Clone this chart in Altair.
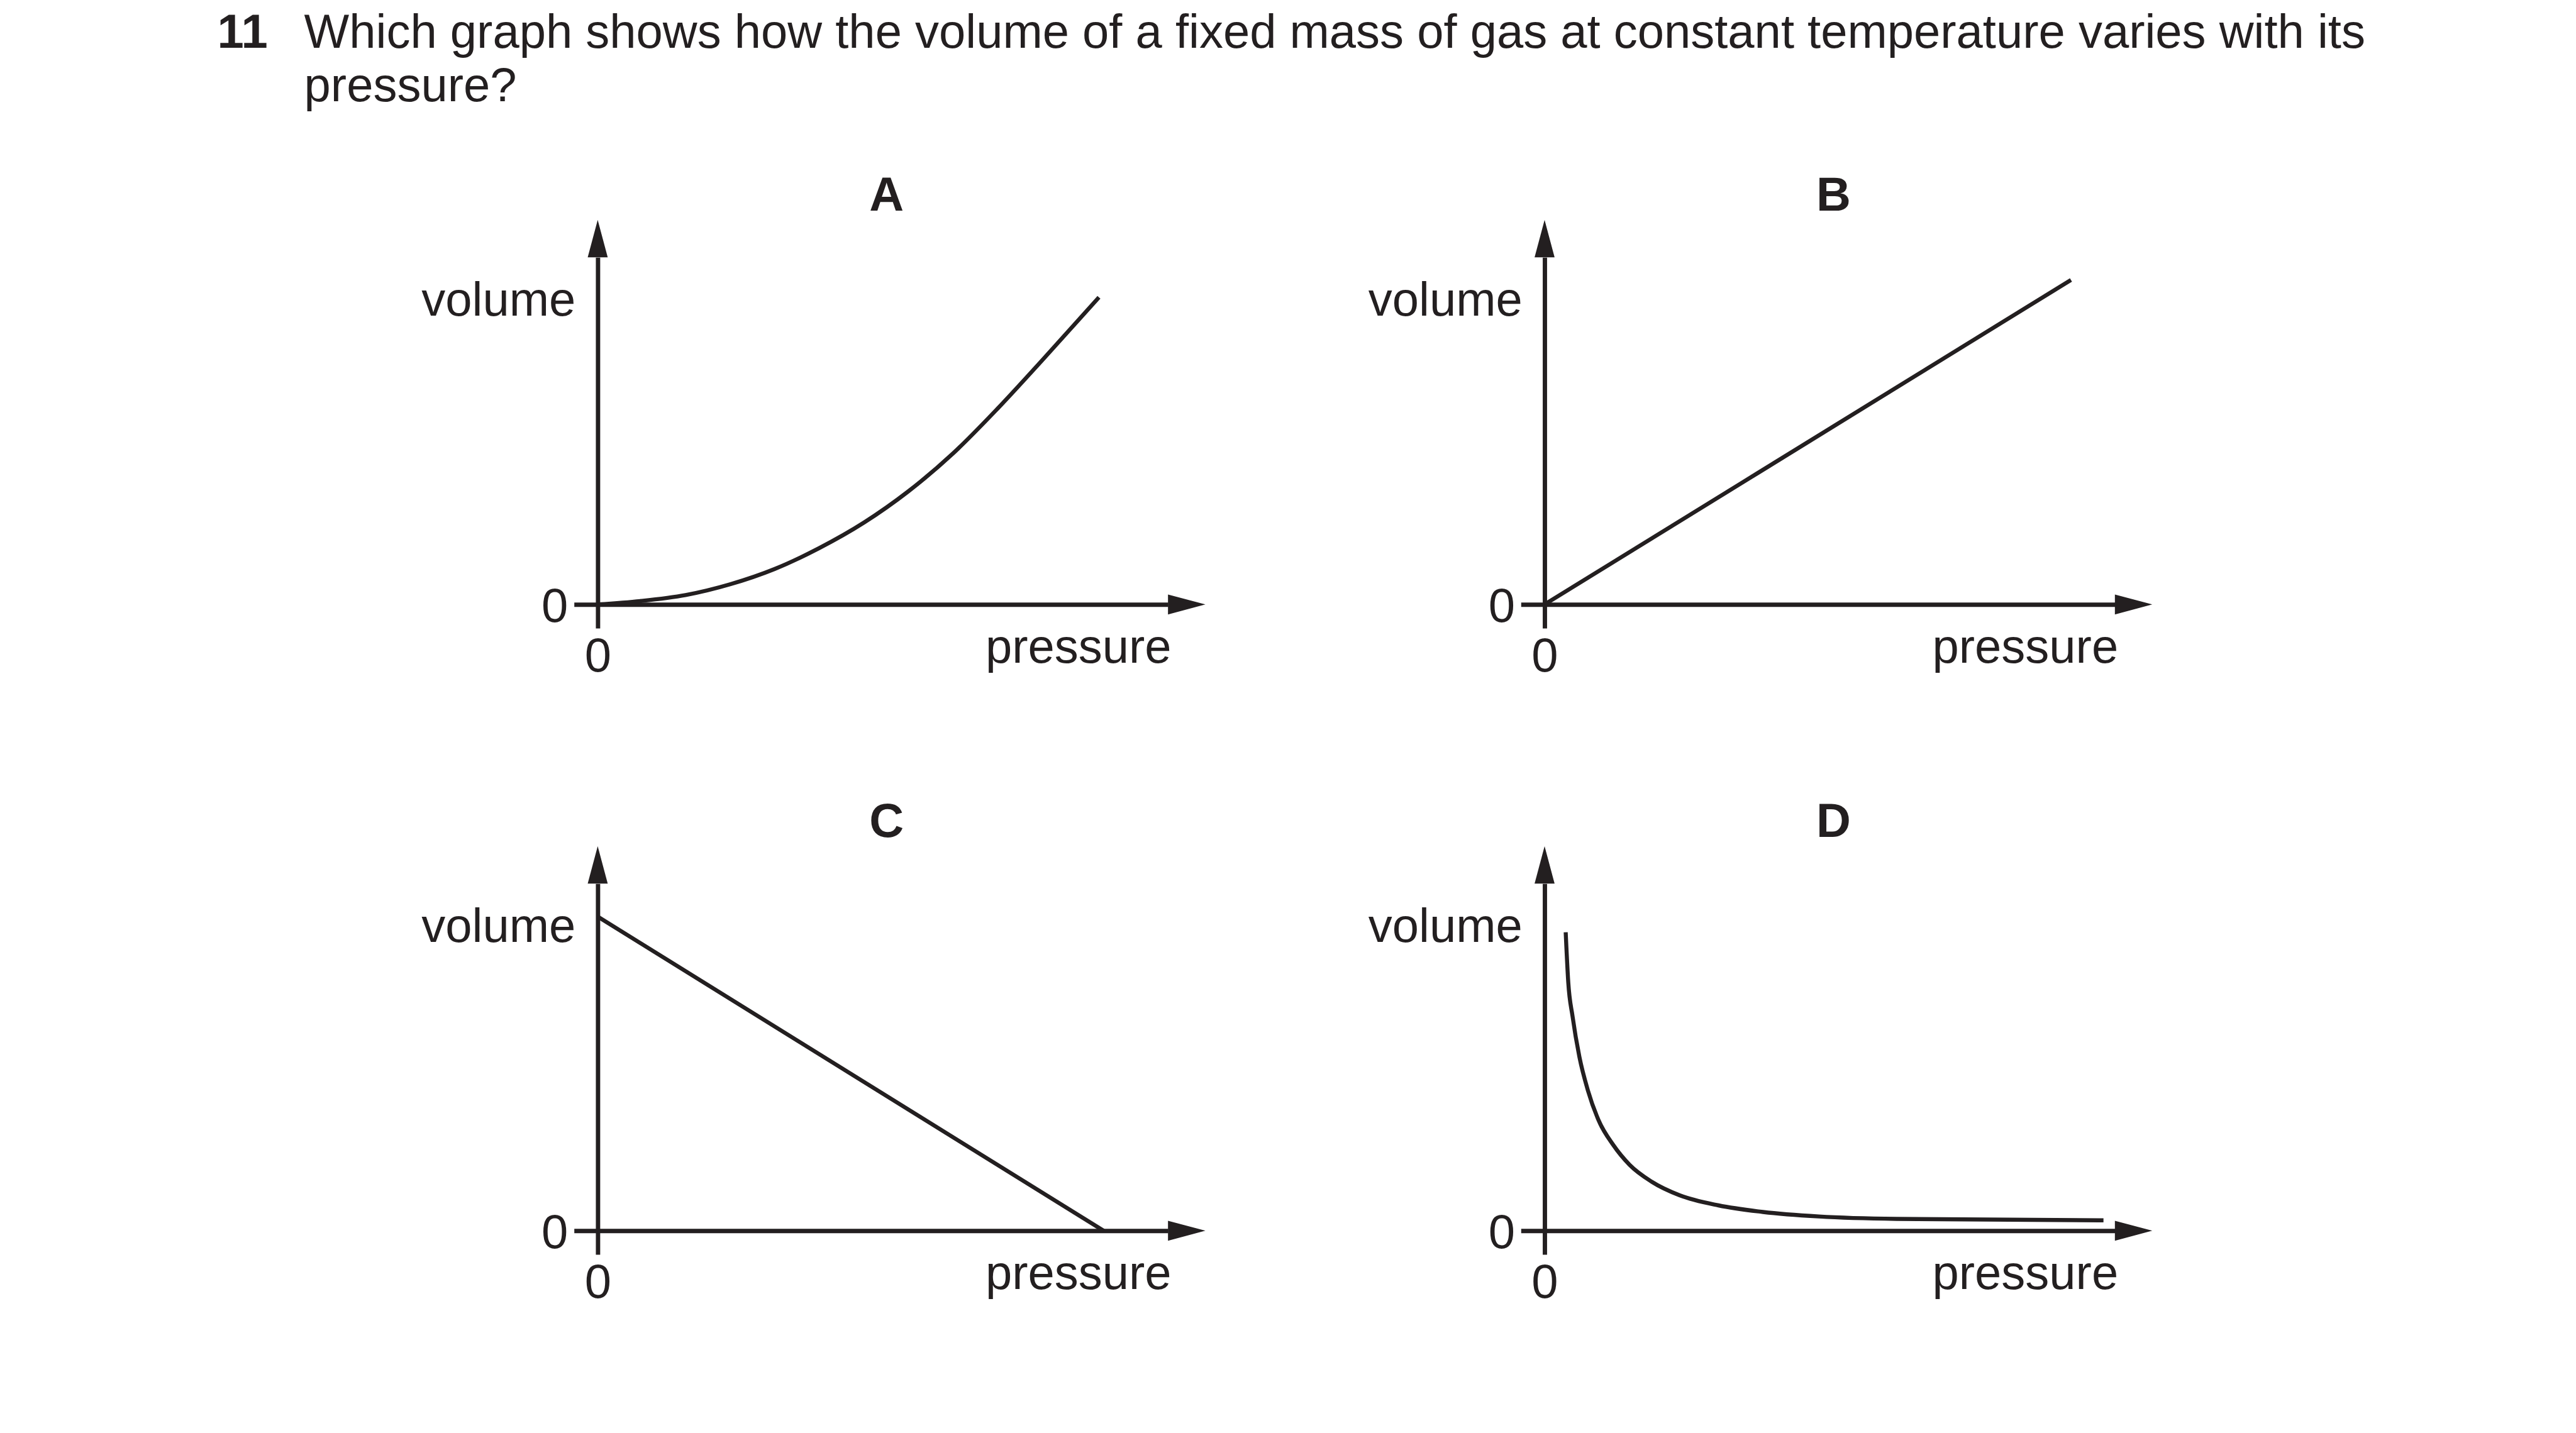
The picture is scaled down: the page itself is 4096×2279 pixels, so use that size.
import altair as alt
import pandas as pd

FONT = "Liberation Sans"
INK = "#231f20"
FS = 76

question_number = "11"
question_lines = [
    "Which graph shows how the volume of a fixed mass of gas at constant temperature varies with its",
    "pressure?",
]
panel_letters = ["A", "B", "C", "D"]
y_label = "volume"
x_label = "pressure"
tick_label = "0"

# curve values (pressure, volume) in axis units 0..10
a_p = [0, 0.76, 1.54, 2.32, 3.10, 3.88, 4.67, 5.44, 6.23, 7.01, 7.78, 8.79]
a_v = [0, 0.10, 0.27, 0.58, 1.02, 1.62, 2.36, 3.25, 4.35, 5.64, 7.01, 8.85]
b_p = [0, 9.23]
b_v = [0, 9.35]
c_p = [0, 8.87]
c_v = [9.05, 0]
d_p = [0.37, 0.415, 0.49, 0.61, 0.76, 0.95, 1.20, 1.49, 1.88, 2.37, 3.05, 3.83, 4.81, 6.17, 9.80]
d_v = [8.60, 7.16, 6.18, 5.01, 4.04, 3.17, 2.48, 1.90, 1.41, 1.02, 0.73, 0.54, 0.41, 0.34, 0.30]
axis_end = 10

W = 906.8
H = 552.0
ARROW_UP = "M0,-2L0.535,0L-0.535,0Z"
ARROW_RIGHT = "M2,0L0,-0.535L0,0.535Z"
ARROW_SIZE = 3535

xs = alt.Scale(domain=[0, axis_end], nice=False, zero=True)
ys = alt.Scale(domain=[0, axis_end], nice=False, zero=True)

common_axis = dict(
    values=[0], grid=False, domainColor=INK, domainWidth=6.9, tickColor=INK,
    tickWidth=6.9, tickSize=37.7, labelFont=FONT, labelFontSize=FS, labelColor=INK,
    titleFont=FONT, titleFontSize=FS, titleColor=INK, titleFontWeight="normal",
    labelFlush=False, labelExpr="'" + tick_label + "'",
)
xaxis = alt.Axis(title=x_label, titleAlign="right", titleBaseline="alphabetic",
                 titleX=911.7, titleY=92.1, labelBaseline="alphabetic", labelAlign="center",
                 labelPadding=68.3, **common_axis)
yaxis = alt.Axis(title=y_label, titleAngle=0, titleAlign="right", titleBaseline="alphabetic",
                 titleX=-35.7, titleY=92.3, labelBaseline="alphabetic", labelAlign="right",
                 labelPadding=9.9, labelOffset=27.7, **common_axis)


def enc(chart):
    return chart.encode(
        x=alt.X("p:Q", scale=xs, axis=xaxis),
        y=alt.Y("v:Q", scale=ys, axis=yaxis),
    )


def panel(letter, p, v, extra=None):
    curve = enc(alt.Chart(pd.DataFrame({"p": p, "v": v})).mark_line(
        color=INK, strokeWidth=6.4, interpolate="monotone", strokeCap="butt"))
    arr_x = enc(alt.Chart(pd.DataFrame({"p": [axis_end], "v": [0]})).mark_point(
        shape=ARROW_RIGHT, size=ARROW_SIZE, filled=True, color=INK, opacity=1, strokeWidth=0))
    arr_y = enc(alt.Chart(pd.DataFrame({"p": [0], "v": [axis_end]})).mark_point(
        shape=ARROW_UP, size=ARROW_SIZE, filled=True, color=INK, opacity=1, strokeWidth=0))
    label = alt.Chart(pd.DataFrame({"t": [letter]})).mark_text(
        align="center", baseline="alphabetic", font=FONT, fontSize=FS, fontWeight="bold", color=INK
    ).encode(x=alt.value(W / 2 + 6), y=alt.value(-74.0), text="t:N")
    layers = [curve, arr_x, arr_y, label] + (extra or [])
    return alt.layer(*layers).properties(width=W, height=H)


num_text = alt.Chart(pd.DataFrame({"t": [question_number]})).mark_text(
    align="left", baseline="alphabetic", font=FONT, fontSize=FS, fontWeight="bold", color=INK
).encode(x=alt.value(-605.0), y=alt.value(-333.0), text="t:N")

q_layers = []
for i, line in enumerate(question_lines):
    q_layers.append(
        alt.Chart(pd.DataFrame({"t": [line]})).mark_text(
            align="left", baseline="alphabetic", font=FONT, fontSize=FS, color=INK
        ).encode(x=alt.value(-466.8), y=alt.value(-333.0 + 84.3 * i), text="t:N")
    )

pA = panel(panel_letters[0], a_p, a_v, extra=[num_text] + q_layers)
pB = panel(panel_letters[1], b_p, b_v)
pC = panel(panel_letters[2], c_p, c_v)
pD = panel(panel_letters[3], d_p, d_v)

chart = alt.concat(
    pA, pB, pC, pD, columns=2,
    spacing=alt.RowColnumber(row=444.0, column=598.6),
    bounds="flush",
).properties(
    padding={"left": 337.4, "top": 7.3, "right": 20, "bottom": 20},
    background="white",
).configure_view(strokeWidth=0)

chart.save("out.html", embed_options={"renderer": "svg", "actions": False})
